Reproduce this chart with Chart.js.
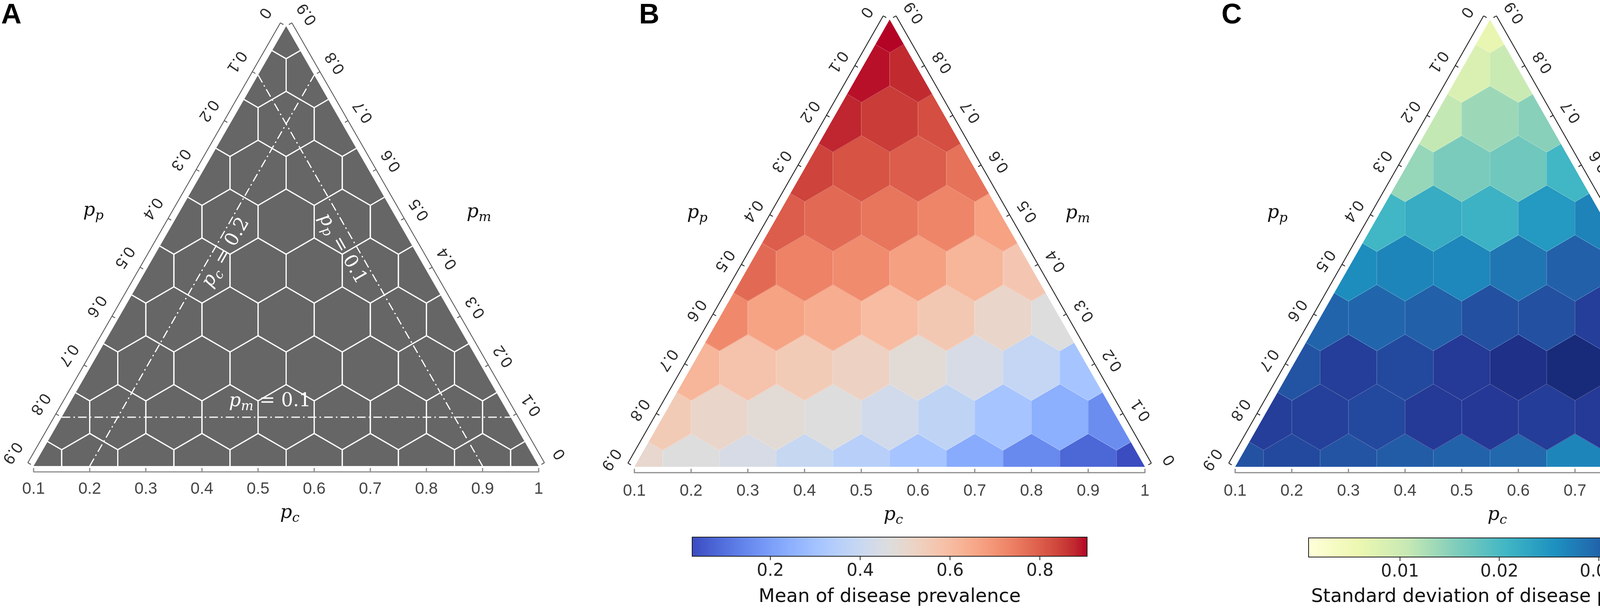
<!DOCTYPE html>
<html><head><meta charset="utf-8">
<script src="https://cdn.jsdelivr.net/npm/chart.js@4.4.1/dist/chart.umd.min.js"></script>
<style>
html,body{margin:0;padding:0;background:#fff;}
body{width:4550px;height:1559px;position:relative;overflow:hidden;}
canvas{position:absolute;}
</style></head><body>
<canvas id="cA" width="1520" height="1370" style="left:0px;top:0px"></canvas>
<canvas id="cB" width="1520" height="1370" style="left:1520px;top:0px"></canvas>
<canvas id="cC" width="1510" height="1370" style="left:3040px;top:0px"></canvas>
<canvas id="kB" width="1200" height="219" style="left:1700px;top:1340px"></canvas>
<canvas id="kC" width="1250" height="219" style="left:3250px;top:1340px"></canvas>
<script>
// ---------------- DATA ----------------
const pcTicks = [0.1,0.2,0.3,0.4,0.5,0.6,0.7,0.8,0.9,1.0];
const pcTickLabels = ['0.1','0.2','0.3','0.4','0.5','0.6','0.7','0.8','0.9','1'];
const ppTicks = [0,0.1,0.2,0.3,0.4,0.5,0.6,0.7,0.8,0.9];
const ppTickLabels = ['0','0.1','0.2','0.3','0.4','0.5','0.6','0.7','0.8','0.9'];
const pmTicks = [0,0.1,0.2,0.3,0.4,0.5,0.6,0.7,0.8,0.9];
const pmTickLabels = ['0','0.1','0.2','0.3','0.4','0.5','0.6','0.7','0.8','0.9'];
// rows of cells: one row per p_m level, p_c ascending from 0.1
const pmLevels = [0,0.1,0.2,0.3,0.4,0.5,0.6,0.7,0.8,0.9];
const meanRows = [
  [0.500,0.466,0.440,0.395,0.356,0.307,0.233,0.152,0.079,0.026],
  [0.553,0.510,0.483,0.466,0.426,0.376,0.307,0.243,0.160],
  [0.619,0.580,0.553,0.527,0.483,0.442,0.388,0.307],
  [0.720,0.665,0.640,0.600,0.563,0.510,0.466],
  [0.778,0.734,0.716,0.672,0.618,0.567],
  [0.800,0.778,0.756,0.729,0.668],
  [0.843,0.817,0.800,0.764],
  [0.879,0.852,0.826],
  [0.896,0.874],
  [0.905]
];
const sdRows = [
  [0.0320,0.0330,0.0318,0.0308,0.0302,0.0296,0.0268,0.0224,0.0169,0.0010],
  [0.0344,0.0341,0.0330,0.0350,0.0351,0.0345,0.0350,0.0345,0.0322],
  [0.0318,0.0344,0.0330,0.0350,0.0365,0.0377,0.0375,0.0405],
  [0.0300,0.0298,0.0304,0.0322,0.0322,0.0344,0.0373],
  [0.0260,0.0268,0.0266,0.0282,0.0304,0.0316],
  [0.0207,0.0220,0.0212,0.0246,0.0270],
  [0.0141,0.0161,0.0169,0.0207],
  [0.0109,0.0137,0.0151],
  [0.0083,0.0103],
  [0.0064]
];
const refPc = 0.2, refPp = 0.1, refPm = 0.1;
const meanRange = [0.026, 0.905];
const meanCbTicks = [0.2,0.4,0.6,0.8];
const meanCbLabels = ['0.2','0.4','0.6','0.8'];
const sdRange = [0.0008, 0.0405];
const sdCbTicks = [0.01,0.02,0.03,0.04];
const sdCbLabels = ['0.01','0.02','0.03','0.04'];

// ---------------- COLORMAPS ----------------
const CM_COOLWARM = [[59,76,192],[68,90,204],[77,104,215],[87,117,225],[98,130,234],[108,142,241],[119,154,247],[130,165,251],[141,176,254],[152,185,255],[163,194,255],[174,201,253],[184,208,249],[194,213,244],[204,217,238],[213,219,230],[221,221,221],[229,216,209],[236,211,197],[241,204,185],[245,196,173],[247,187,160],[247,177,148],[247,166,135],[244,154,123],[241,141,111],[236,127,99],[229,112,88],[222,96,77],[213,80,66],[203,62,56],[192,40,47],[180,4,38]];
const CM_YLGNBU = [[255,255,217],[237,248,177],[199,233,180],[127,205,187],[65,182,196],[29,145,192],[34,94,168],[37,52,148],[8,29,88]];
function cmap(tbl, s){
  s = Math.max(0, Math.min(1, s));
  const n = tbl.length - 1, f = s*n, i = Math.min(n-1, Math.floor(f)), t = f - i;
  const a = tbl[i], b = tbl[i+1];
  return 'rgb(' + [0,1,2].map(k => Math.round(a[k] + (b[k]-a[k])*t)).join(',') + ')';
}

// ---------------- HELPERS ----------------
function buildCells(rows){
  const out = [];
  pmLevels.forEach((pm, k) => {
    const n = pcTicks.length - k;
    for (let i = 0; i < n; i++){
      const pc = pcTicks[i];
      out.push({x: pc + pm/2, y: pm, v: rows ? rows[k][i] : null});
    }
  });
  return out;
}
const tern = (pc, pm) => ({x: pc + pm/2, y: pm});
const HEX = [[0,2/30],[0.05,1/30],[0.05,-1/30],[0,-2/30],[-0.05,-1/30],[-0.05,1/30]];
const SERIF = '"DejaVu Serif","Liberation Serif",serif';

function drawMath(ctx, segs, cx, cy, angle, size, baseK, color){
  ctx.save(); ctx.translate(cx, cy); ctx.rotate(angle);
  const fonts = segs.map(s => (s.it ? 'italic ' : '') + Math.round(s.sub ? size*0.7 : size) + 'px ' + SERIF);
  let w = 0;
  const ws = segs.map((s,i) => { ctx.font = fonts[i]; const m = ctx.measureText(s.t).width; w += m; return m; });
  let xx = -w/2; const base = size*baseK;
  ctx.textAlign = 'left'; ctx.textBaseline = 'alphabetic'; ctx.fillStyle = color;
  segs.forEach((s,i) => { ctx.font = fonts[i]; ctx.fillText(s.t, xx, base + (s.sub ? size*0.22 : 0)); xx += ws[i]; });
  ctx.restore();
}
const M = (a, b, rest) => { const s = [{t:a,it:true},{t:b,it:true,sub:true}]; if (rest) s.push({t:rest}); return s; };

function triPlugin(P){
  return {
    id: 'tri',
    beforeDatasetsDraw(chart){
      const {ctx, scales:{x, y}} = chart;
      const px = (a, b) => [x.getPixelForValue(a), y.getPixelForValue(b)];
      const v0 = px(0.1,0), v1 = px(1,0), v2 = px(0.55,0.9);
      ctx.save();
      ctx.beginPath(); ctx.moveTo(...v0); ctx.lineTo(...v1); ctx.lineTo(...v2); ctx.closePath(); ctx.clip();
      const cells = chart.data.datasets[0].data;
      const path = c => { ctx.beginPath(); HEX.forEach(([dx,dy],i) => { const p = px(c.x+dx, c.y+dy); i ? ctx.lineTo(...p) : ctx.moveTo(...p); }); ctx.closePath(); };
      cells.forEach(c => {
        const col = P.color(c);
        path(c); ctx.fillStyle = col; ctx.fill(); ctx.strokeStyle = col; ctx.lineWidth = 1.5; ctx.stroke();
      });
      ctx.strokeStyle = P.edgeColor; ctx.lineWidth = P.edgeWidth; ctx.lineJoin = 'miter';
      cells.forEach(c => { path(c); ctx.stroke(); });
      ctx.restore();
    },
    afterDatasetsDraw(chart){
      const {ctx, scales:{x, y}} = chart;
      const px = (a, b) => [x.getPixelForValue(a), y.getPixelForValue(b)];
      const v0 = px(0.1,0), v1 = px(1,0), v2 = px(0.55,0.9);
      const L = P.canvasLeft;
      ctx.save();
      // bottom axis
      const yb = v0[1] + P.bottomGap;
      ctx.strokeStyle = '#8c8c8c'; ctx.lineWidth = 3; ctx.lineCap = 'butt';
      ctx.beginPath(); ctx.moveTo(v0[0], yb); ctx.lineTo(v1[0], yb); ctx.stroke();
      pcTicks.forEach(t => { const X = x.getPixelForValue(t); ctx.beginPath(); ctx.moveTo(X, yb+1); ctx.lineTo(X, yb-10); ctx.stroke(); });
      // side axes
      const side = (a, b, outSign, ticks, labels, ptFn, off, rot) => {
        const ex = b[0]-a[0], ey = b[1]-a[1], len = Math.hypot(ex, ey);
        const n = [outSign*ey/len, -outSign*ex/len];
        const g = P.sideGap;
        ctx.strokeStyle = P.sideColor; ctx.lineWidth = 2.2;
        ctx.beginPath(); ctx.moveTo(a[0]+n[0]*g, a[1]+n[1]*g); ctx.lineTo(b[0]+n[0]*g, b[1]+n[1]*g); ctx.stroke();
        ticks.forEach((t, i) => {
          const p = ptFn(t);
          ctx.beginPath(); ctx.moveTo(p[0]+n[0]*g, p[1]+n[1]*g); ctx.lineTo(p[0]+n[0]*(g-9), p[1]+n[1]*(g-9)); ctx.stroke();
          ctx.save(); ctx.translate(p[0]+off[0], p[1]+off[1]); ctx.rotate(rot);
          ctx.font = '41px "Liberation Sans", Arial, sans-serif'; ctx.fillStyle = '#2a2a2a';
          ctx.textAlign = 'center'; ctx.textBaseline = 'middle'; ctx.fillText(labels[i], 0, 0);
          ctx.restore();
        });
      };
      side(v0, v2, 1, ppTicks, ppTickLabels, t => px(0.1 + (0.9-t)/2, 0.9-t), P.leftOff, 124*Math.PI/180);
      side(v1, v2, -1, pmTicks, pmTickLabels, t => px(1 - t/2, t), P.rightOff, -124*Math.PI/180);
      // axis titles
      drawMath(ctx, M('p','p'), P.titles.pp[0]-L, P.titles.pp[1], 0, 48, 0.1, '#111');
      drawMath(ctx, M('p','m'), P.titles.pm[0]-L, P.titles.pm[1], 0, 48, 0.12, '#111');
      drawMath(ctx, M('p','c'), P.titles.pc[0]-L, P.titles.pc[1], 0, 48, 0.12, '#111');
      // reference line labels
      (P.lineLabels || []).forEach(lb => {
        const ds = chart.data.datasets[lb.ds].data;
        const a = px(ds[0].x, ds[0].y), b = px(ds[1].x, ds[1].y);
        const th = Math.atan2(b[1]-a[1], b[0]-a[0]);
        const cx = a[0] + (b[0]-a[0])*lb.t - Math.sin(th)*lb.off;
        const cy = a[1] + (b[1]-a[1])*lb.t + Math.cos(th)*lb.off;
        drawMath(ctx, lb.segs, cx, cy, th, 48, 0.25, '#ffffff');
      });
      // panel letter
      ctx.font = 'bold 72px "Liberation Sans", Arial, sans-serif'; ctx.fillStyle = '#000';
      ctx.textAlign = 'left'; ctx.textBaseline = 'alphabetic';
      ctx.fillText(P.letter, P.letterX - L, 60);
      ctx.restore();
    }
  };
}

function triChart(id, P, cells, extra){
  return new Chart(document.getElementById(id), {
    type: 'scatter',
    data: { datasets: [{label:'cells', data: cells, pointRadius:0, pointHoverRadius:0}].concat(extra) },
    options: {
      responsive:false, animation:false, devicePixelRatio:1, events:[],
      layout:{padding:{left:P.chartL-P.canvasLeft, right:P.canvasLeft+P.W-P.chartR, top:P.chartT, bottom:0}},
      plugins:{legend:{display:false}, tooltip:{enabled:false}},
      scales:{
        x:{type:'linear', min:0.1, max:1, position:'bottom',
           grid:{display:false, drawTicks:false}, border:{display:false},
           afterBuildTicks: s => { s.ticks = pcTicks.map(v => ({value:v})); },
           afterFit: s => { s.height = P.H - P.base; },
           ticks:{callback:(v,i) => pcTickLabels[i], autoSkip:false, maxRotation:0,
                  font:{family:'"Liberation Sans", Arial, sans-serif', size:42}, color:'#454545', padding:P.tickPad}},
        y:{type:'linear', min:0, max:0.9, display:false}
      }
    },
    plugins:[triPlugin(P)]
  });
}

function cbChart(id, K){
  return new Chart(document.getElementById(id), {
    type: 'scatter',
    data: {datasets: []},
    options: {
      responsive:false, animation:false, devicePixelRatio:1, events:[],
      layout:{padding:{left:K.barL-K.left, right:K.left+K.W-K.barR, top:K.barT-K.top, bottom:0}},
      plugins:{legend:{display:false}, tooltip:{enabled:false}},
      scales:{
        x:{type:'linear', min:K.range[0], max:K.range[1], position:'bottom',
           grid:{display:true, drawOnChartArea:false, drawTicks:true, tickLength:10, color:'#222', lineWidth:2},
           border:{display:false},
           afterBuildTicks: s => { s.ticks = K.ticks.map(v => ({value:v})); },
           afterFit: s => { s.height = K.top + K.H - K.barB; },
           ticks:{callback:(v,i) => K.labels[i], autoSkip:false, maxRotation:0, padding:2,
                  font:{family:'"DejaVu Sans", sans-serif', size:44}, color:'#222'},
           title:{display:true, text:K.title, color:'#111', padding:{top:0, bottom:2},
                  font:{family:'"DejaVu Sans", sans-serif', size:48}}},
        y:{type:'linear', min:0, max:1, display:false}
      }
    },
    plugins:[{
      id:'cbar',
      beforeDatasetsDraw(chart){
        const {ctx, chartArea:a, scales:{x}} = chart;
        ctx.save();
        for (let p = Math.floor(a.left); p < a.right; p++){
          const v = x.getValueForPixel(p + 0.5);
          ctx.fillStyle = cmap(K.cm, (v - K.range[0])/(K.range[1]-K.range[0]));
          ctx.fillRect(p, a.top, 1.2, a.bottom - a.top);
        }
        ctx.strokeStyle = '#1a1a1a'; ctx.lineWidth = 2;
        ctx.strokeRect(a.left, a.top, a.right - a.left, a.bottom - a.top);
        ctx.restore();
      }
    }]
  });
}

// ---------------- PANELS ----------------
const PA = {canvasLeft:0, W:1520, H:1370, chartL:86, chartR:1379, chartT:67, base:1193, tickPad:34,
  bottomGap:15, sideGap:17, sideColor:'#555', leftOff:[-55,-34], rightOff:[54,-31],
  letter:'A', letterX:3, titles:{pp:[239,547], pm:[1226,550], pc:[742,1320]},
  color: () => '#666666', edgeColor:'#ffffff', edgeWidth:3,
  lineLabels:[
    {ds:1, t:0.561, off:31, segs:M('p','c',' = 0.2')},
    {ds:2, t:0.427, off:35, segs:M('p','p',' = 0.1')},
    {ds:3, t:0.464, off:-40, segs:M('p','m',' = 0.1')}
  ]};
const PB = {canvasLeft:1520, W:1520, H:1370, chartL:1624, chartR:2931, chartT:50, base:1195, tickPad:37,
  bottomGap:15, sideGap:19, sideColor:'#222', leftOff:[-60,-19], rightOff:[63,-18],
  letter:'B', letterX:1636, titles:{pp:[1785,553], pm:[2759,553], pc:[2287,1325]},
  color: c => cmap(CM_COOLWARM, (c.v - meanRange[0])/(meanRange[1]-meanRange[0])),
  edgeColor:'rgba(255,255,255,0.18)', edgeWidth:1.2};
const PC = {canvasLeft:3040, W:1510, H:1370, chartL:3162, chartR:4467, chartT:50, base:1195, tickPad:37,
  bottomGap:15, sideGap:19, sideColor:'#222', leftOff:[-60,-19], rightOff:[63,-18],
  letter:'C', letterX:3127, titles:{pp:[3270,553], pm:[4304,553], pc:[3833,1325]},
  color: c => cmap(CM_YLGNBU, (c.v - sdRange[0])/(sdRange[1]-sdRange[0])),
  edgeColor:'rgba(255,255,255,0.16)', edgeWidth:1.2};

const refStyle = {showLine:true, borderColor:'#ffffff', borderWidth:3, borderDash:[22,8,4,8], pointRadius:0, fill:false};
const refLines = [
  Object.assign({label:'pc', data:[tern(refPc,0), tern(refPc,1-refPc)]}, refStyle),
  Object.assign({label:'pp', data:[tern(0.1,1-refPp-0.1), tern(1-refPp,0)]}, refStyle),
  Object.assign({label:'pm', data:[tern(0.1,refPm), tern(1-refPm,refPm)]}, refStyle)
];

triChart('cA', PA, buildCells(null), refLines);
triChart('cB', PB, buildCells(meanRows), []);
triChart('cC', PC, buildCells(sdRows), []);
cbChart('kB', {left:1700, top:1340, W:1200, H:219, barL:1772, barR:2783, barT:1375, barB:1424,
  range:meanRange, ticks:meanCbTicks, labels:meanCbLabels, title:'Mean of disease prevalence', cm:CM_COOLWARM});
cbChart('kC', {left:3250, top:1340, W:1250, H:219, barL:3350, barR:4360, barT:1377, barB:1426,
  range:sdRange, ticks:sdCbTicks, labels:sdCbLabels, title:'Standard deviation of disease prevalence', cm:CM_YLGNBU});
</script>
</body></html>
